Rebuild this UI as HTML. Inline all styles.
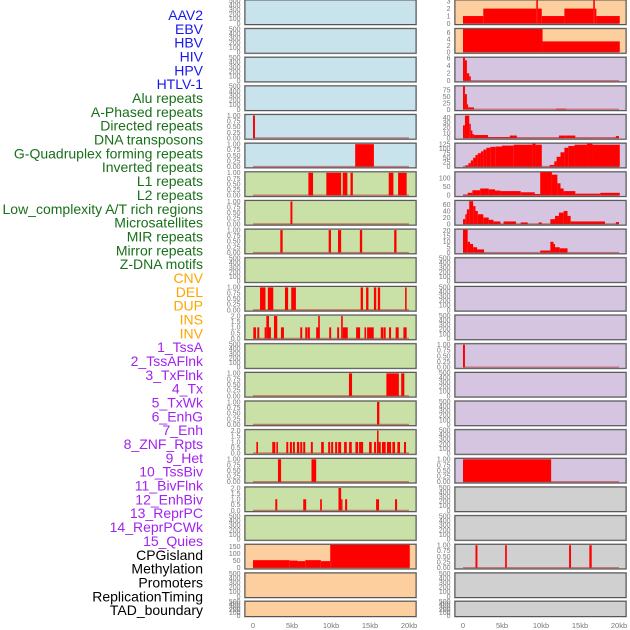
<!DOCTYPE html>
<html><head><meta charset="utf-8"><style>
html,body{margin:0;padding:0;background:#fff;}
svg{display:block;font-family:"Liberation Sans",sans-serif;}
</style></head><body>
<svg id="chart" width="630" height="630" viewBox="0 0 630 630" xmlns="http://www.w3.org/2000/svg"></svg>
<script>
// ---- labels ----
const trackLabels = ["AAV2","EBV","HBV","HIV","HPV","HTLV-1","Alu repeats","A-Phased repeats","Directed repeats","DNA transposons","G-Quadruplex forming repeats","Inverted repeats","L1 repeats","L2 repeats","Low_complexity A/T rich regions","Microsatellites","MIR repeats","Mirror repeats","Z-DNA motifs","CNV","DEL","DUP","INS","INV","1_TssA","2_TssAFlnk","3_TxFlnk","4_Tx","5_TxWk","6_EnhG","7_Enh","8_ZNF_Rpts","9_Het","10_TssBiv","11_BivFlnk","12_EnhBiv","13_ReprPC","14_ReprPCWk","15_Quies","CPGisland","Methylation","Promoters","ReplicationTiming","TAD_boundary"];
const labelGroups = ["v","v","v","v","v","v","r","r","r","r","r","r","r","r","r","r","r","r","r","s","s","s","s","s","c","c","c","c","c","c","c","c","c","c","c","c","c","c","c","o","o","o","o","o"];
const xTickLabels = ["0","5kb","10kb","15kb","20kb"];
const xTickValues = [0,5,10,15,20];

// ---- tick sets ----
const ticksEmpty = [0,100,200,300,400,500];
const ticksUnit = [0,0.25,0.5,0.75,1];
const ticksTwo = [0,0.5,1,1.5,2];

// ---- left column data: [startKb, endKb, value] ----
const L_dirRep = [[0,0.25,1]];
const L_g4 = [[13.1,15.5,1]];
const L_l1 = [[7.1,7.7,1],[9.4,11.3,1],[11.5,12.1,1],[12.5,12.8,1],[17.4,18.0,1],[18.6,19.7,1]];
const L_lowc = [[4.8,5.05,1]];
const L_mir = [[3.5,3.8,1],[9.7,10.0,1],[10.9,11.3,1],[13.7,14.0,1],[18.1,18.4,1]];
const L_del = [[0.9,1.6,1],[1.9,2.6,1],[4.1,4.5,1],[4.9,5.5,1],[13.8,14.1,1],[14.5,14.8,1],[15.5,15.8,1],[16.0,16.3,1],[19.5,19.7,1]];
const L_ins = [[0.04,0.38,1],[0.55,0.81,1],[1.49,1.71,1],[1.71,2.05,2],[2.05,2.3,1],[2.69,3.11,2],[3.58,3.97,1],[6.06,6.31,1],[6.7,6.99,1],[7.04,7.29,1],[8.1,8.4,1],[8.36,8.57,2],[9.77,10.02,1],[10.79,11.04,1],[11.3,11.51,2],[11.51,12.15,1],[13.22,13.73,1],[14.29,14.5,1],[14.63,15.48,1],[16.38,16.67,1],[16.72,17.01,1],[17.44,17.7,1],[18.29,18.68,1],[19.28,19.7,1]];
const L_txflnk = [[12.3,12.7,1],[17.1,18.7,1],[19.0,19.4,1]];
const L_txwk = [[15.9,16.2,1]];
const L_enh = [[0.43,0.64,1],[2.47,2.86,1],[3.0,3.2,1],[4.27,4.52,1],[4.73,4.99,1],[5.12,5.37,1],[5.63,5.93,1],[6.06,6.31,1],[6.44,6.7,1],[7.42,7.67,1],[8.74,9.08,1],[9.64,9.89,1],[10.02,10.28,1],[10.53,10.79,1],[10.92,11.3,1],[11.68,12.02,1],[12.32,12.66,1],[13.13,13.47,1],[13.6,14.12,1],[14.88,15.22,1],[15.52,15.78,1],[15.9,16.1,2],[16.1,16.38,1],[16.54,17.01,1],[17.18,17.7,1],[17.87,18.21,1],[18.51,18.85,1],[19.36,19.62,1]];
const L_het = [[3.2,3.6,1],[7.5,8.1,1]];
const L_tssbiv = [[2.86,3.11,1],[6.44,6.82,1],[8.61,8.83,1],[10.96,11.3,2],[11.3,11.47,1],[11.81,12.07,1],[15.78,16.16,1],[18.21,18.47,1]];
const L_cpg = [[0,4.7,55],[4.7,5.7,52],[5.7,6.7,48],[6.7,8.7,55],[8.7,9.9,48],[9.9,20.1,165]];

// ---- right column data ----
const R_aav2 = [[0,2.6,1],[2.6,9.4,2],[9.4,9.6,3.1],[9.6,10.1,2],[10.1,13.0,1],[13.0,16.7,2],[16.7,16.9,3.1],[16.9,17.1,2],[17.1,20.1,1]];
const R_ebv = [[0,10.2,7.1],[10.2,20.1,3.3]];
const R_hiv = [[0,0.25,6.2],[0.25,0.5,5.5],[0.5,0.8,2],[0.8,1.0,1.2]];
const R_hpv = [[0,0.25,92],[0.25,0.5,60],[0.5,0.65,20],[0.65,1.4,8],[11.9,13.2,3]];
const R_htlv = [[0,0.25,25],[0.25,0.8,44],[0.8,1.0,28],[1.0,1.2,15],[1.2,1.4,8],[1.4,1.6,6],[1.6,3.2,6],[3.2,6.0,2],[6.0,6.9,5],[6.9,12.3,1],[12.3,13.1,5],[13.1,14.4,5],[14.4,19.6,1],[19.6,20.0,4]];
const R_g4 = [[0.3,0.7,8],[0.7,1.0,20],[1.0,1.3,35],[1.3,1.6,50],[1.6,1.9,65],[1.9,2.3,75],[2.3,2.6,85],[2.6,3.0,95],[3.0,3.5,105],[3.5,4.2,110],[4.2,5.0,112],[5.0,6.5,117],[6.5,8.9,122],[8.9,9.3,128],[9.3,10.1,122],[11.1,11.7,10],[11.7,12.0,30],[12.0,12.5,55],[12.5,13.0,80],[13.0,13.5,105],[13.5,14.3,115],[14.3,15.9,122],[15.9,16.6,128],[16.6,20.1,122]];
const R_l1 = [[0,0.6,5],[0.6,1.2,15],[1.2,2.2,30],[2.2,3.3,40],[3.3,4.1,35],[4.1,4.8,28],[4.8,7.4,25],[7.4,9.2,18],[9.2,9.9,8],[9.9,11.4,135],[11.4,12.1,120],[12.1,12.5,70],[12.5,12.9,40],[12.9,14.4,25],[14.4,17.6,10],[17.6,20.1,15]];
const R_lowc = [[0,0.3,15],[0.3,0.5,30],[0.5,0.8,45],[0.8,1.3,70],[1.3,1.6,55],[1.6,1.9,40],[1.9,2.6,30],[2.6,3.3,20],[3.3,3.9,13],[3.9,4.8,8],[5.2,6.8,8],[7.4,8.3,5],[9.7,10.1,5],[11.2,11.8,15],[11.8,12.3,25],[12.3,12.9,35],[12.9,13.4,40],[13.4,13.8,25],[13.8,18.2,8],[19.6,20.0,6]];
const R_mir = [[0,0.6,21],[0.6,0.9,10],[0.9,1.3,8],[1.3,1.8,5],[1.8,2.7,3],[9.9,11.2,2],[11.2,11.6,10],[11.6,11.8,8],[11.8,12.4,5],[12.4,13.4,4]];
const R_tssa = [[0,0.25,1]];
const R_tssbiv = [[0,11.3,1]];
const R_cpg = [[1.6,1.85,1],[5.4,5.62,1],[13.6,13.85,1],[16.2,16.5,1]];

// ---- panel rows: [leftBg, leftData, leftYmax, leftTicks, rightBg, rightData, rightYmax, rightTicks]
const BLUE="#c8e3eb", GREEN="#c9e1a6", ORANGE="#fecf9e", PURPLE="#d5c5e1", GRAY="#d0d0d0";
const rows = [
 [BLUE,null,510,ticksEmpty, ORANGE,R_aav2,3.15,[0,1,2,3]],
 [BLUE,null,510,ticksEmpty, ORANGE,R_ebv,7.2,[0,2,4,6]],
 [BLUE,null,510,ticksEmpty, PURPLE,R_hiv,6.3,[0,2,4,6]],
 [BLUE,null,510,ticksEmpty, PURPLE,R_hpv,92,[0,25,50,75]],
 [BLUE,L_dirRep,1.04,ticksUnit, PURPLE,R_htlv,46,[0,10,20,30,40]],
 [BLUE,L_g4,1.04,ticksUnit, PURPLE,R_g4,130,[0,25,50,75,100,125]],
 [GREEN,L_l1,1.04,ticksUnit, PURPLE,R_l1,136,[0,50,100]],
 [GREEN,L_lowc,1.04,ticksUnit, PURPLE,R_lowc,72,[0,20,40,60]],
 [GREEN,L_mir,1.04,ticksUnit, PURPLE,R_mir,21.5,[0,5,10,15,20]],
 [GREEN,null,510,ticksEmpty, PURPLE,null,510,ticksEmpty],
 [GREEN,L_del,1.04,ticksUnit, PURPLE,null,510,ticksEmpty],
 [GREEN,L_ins,2.08,ticksTwo, PURPLE,null,510,ticksEmpty],
 [GREEN,null,510,ticksEmpty, PURPLE,R_tssa,1.04,ticksUnit],
 [GREEN,L_txflnk,1.04,ticksUnit, PURPLE,null,510,ticksEmpty],
 [GREEN,L_txwk,1.04,ticksUnit, PURPLE,null,510,ticksEmpty],
 [GREEN,L_enh,2.08,ticksTwo, PURPLE,null,510,ticksEmpty],
 [GREEN,L_het,1.04,ticksUnit, PURPLE,R_tssbiv,1.04,ticksUnit],
 [GREEN,L_tssbiv,2.08,ticksTwo, GRAY,null,510,ticksEmpty],
 [GREEN,null,510,ticksEmpty, GRAY,null,510,ticksEmpty],
 [ORANGE,L_cpg,168,[0,50,100,150], GRAY,R_cpg,1.04,ticksUnit],
 [ORANGE,null,510,ticksEmpty, GRAY,null,510,ticksEmpty],
 [ORANGE,null,510,ticksEmpty, GRAY,null,510,ticksEmpty]
];

const NS="http://www.w3.org/2000/svg";
const svg=document.getElementById('chart');
function mk(tag,attrs,parent){const e=document.createElementNS(NS,tag);for(const k in attrs)e.setAttribute(k,attrs[k]);(parent||svg).appendChild(e);return e;}

const groupColor={v:"#1818ee",r:"#18701a",s:"#ffa500",c:"#a223ef",o:"#000000"};
trackLabels.forEach((t,i)=>{
  const e=mk('text',{x:203,y:15+i*13.84+5,'text-anchor':'end','font-size':14,fill:groupColor[labelGroups[i]]});
  e.textContent=t;
  
  
});

const colX=[245,455];
const panelW=171;
const kbScale=7.8;
function xScale(col,kb){return colX[col]+8+kb*kbScale;}
function fmtTick(v,ticks){
  if(ticks===ticksUnit) return v.toFixed(2);
  if(ticks===ticksTwo) return v.toFixed(1);
  return String(v);
}
function drawPanel(col,r,bg,data,ymax,ticks){
  const top = r<21 ? r*28.65 : 601.3;
  const h = r<21 ? 24.5 : 15.2;
  const bottom=top+h;
  const g=mk('g',{});
  
  
  mk('rect',{x:colX[col]-0.5,y:top-0.5,width:panelW+1,height:h+1,fill:'none',stroke:'#b0b0b0','stroke-width':1},g);
  mk('rect',{x:colX[col],y:top,width:panelW,height:h,fill:bg,stroke:'#555','stroke-width':1},g);
  const yS=v=>bottom-1-v/ymax*(h-1);
  // ticks
  ticks.forEach(v=>{
    const t=mk('text',{x:colX[col]-4.5,y:yS(v)+2.3,'text-anchor':'end','font-size':7,fill:'#777'},g);
    t.textContent=fmtTick(v,ticks);
    
    
  });
  if(data){
    data.forEach(d=>{
      const x0=xScale(col,d[0]), x1=xScale(col,d[1]);
      const b=mk('rect',{x:x0,y:yS(d[2]),width:Math.max(x1-x0,1.2),height:bottom-1-yS(d[2]),fill:'#ff0000'},g);
      
      
    });
    const bl=mk('line',{x1:xScale(col,0),x2:xScale(col,20),y1:bottom-1.2,y2:bottom-1.2,stroke:'rgba(190,40,40,0.55)','stroke-width':1.3},g);
    
    
  }
}
rows.forEach((row,r)=>{
  drawPanel(0,r,row[0],row[1],row[2],row[3]);
  drawPanel(1,r,row[4],row[5],row[6],row[7]);
});
[0,1].forEach(col=>{
  xTickValues.forEach((v,i)=>{
    const t=mk('text',{x:xScale(col,v),y:628,'text-anchor':'middle','font-size':7.5,fill:'#777'});
    t.textContent=xTickLabels[i];
    
    
  });
});
</script>
</body></html>
